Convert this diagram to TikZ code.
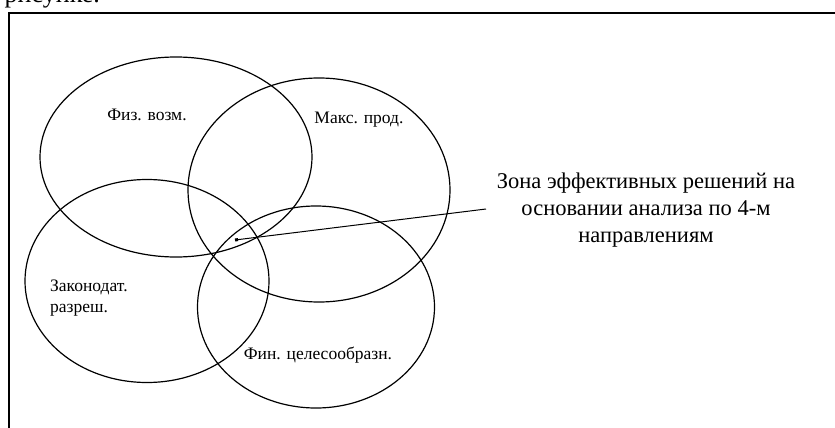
\documentclass[tikz,border=0pt]{standalone}
\usepackage{fontspec}
\setmainfont{Liberation Serif}
\usetikzlibrary{shapes.geometric,arrows.meta}
\begin{document}
\begin{tikzpicture}[x=1pt,y=-1pt,
  ring/.style={draw, ellipse, line width=1.2pt, inner sep=0pt},
  lbl/.style={font=\fontsize{17.5}{21}\selectfont, inner sep=0pt},
  zone/.style={font=\fontsize{22.5}{27}\selectfont, align=center, inner sep=0pt}]
\useasboundingbox (0,0) rectangle (835,428);
\draw[line width=1.6pt] (9,445) -- (9,13) -- (850,13);
\node[font=\fontsize{26}{30}\selectfont, anchor=base east, inner sep=0pt] (top) at (100,3) {рисунке.};
\node[ring, minimum width=272pt, minimum height=200pt] (fiz) at (176,157) {};
\node[ring, minimum width=262pt, minimum height=224pt] (mak) at (319,190) {};
\node[ring, minimum width=244pt, minimum height=203pt] (zak) at (147,281) {};
\node[ring, minimum width=237pt, minimum height=202pt] (fin) at (316,307) {};
\node[lbl] (tfiz) at (147,115) {Физ. возм.};
\node[lbl] (tmak) at (359,120) {Макс. прод.};
\node[lbl, align=left, anchor=west] (tzak) at (50,298) {Законодат.\\разреш.};
\node[lbl] (tfin) at (318,355) {Фин. целесообразн.};
\node[zone] (tzone) at (646,210) {Зона эффективных решений на\\основании анализа по 4-м\\направлениям};
\coordinate (pt) at (235,240);
\coordinate (lend) at (486,209);
\draw[line width=1pt, -{Square[length=3pt,width=3pt]}] (lend) -- (pt);
\end{tikzpicture}
\end{document}
